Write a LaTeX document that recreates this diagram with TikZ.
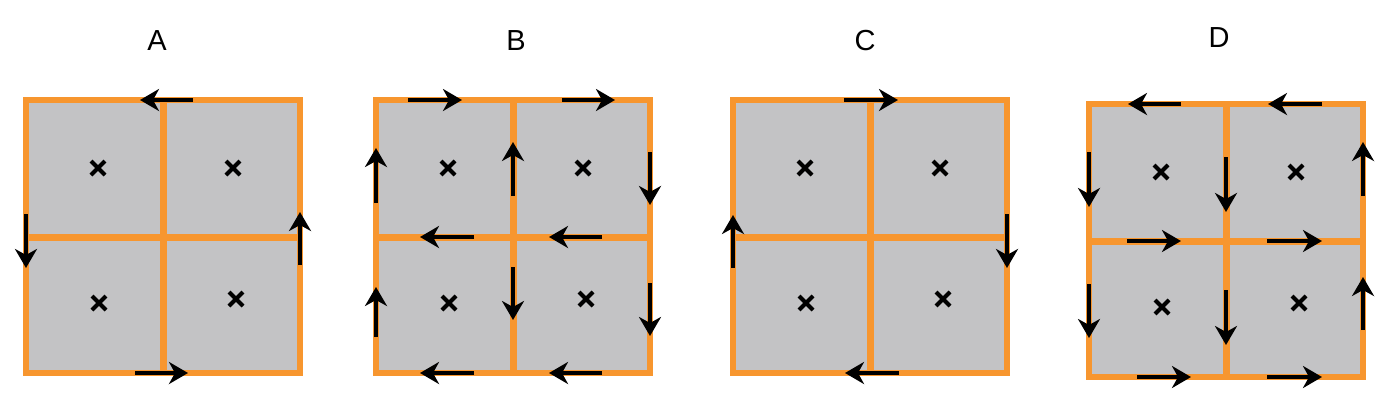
\documentclass[tikz,border=0pt]{standalone}
\usepackage{fontspec}
\setmainfont{Liberation Sans}
\usetikzlibrary{arrows.meta}
\definecolor{cellgray}{HTML}{C3C3C5}
\definecolor{wireorange}{HTML}{F7962F}

\newcommand{\cellgrid}{%
  \fill[cellgray] (0,0) rectangle (274,273);
  \draw[wire] (0,0) rectangle (274,273);
  \draw[wire,line width=7pt] (137,0) -- (137,273) (0,137) -- (274,137);
  \foreach \cx/\cy in {72/68,207/68,73/203,210/199}
    \draw[cross] (\cx-7,\cy-7) -- (\cx+7,\cy+7) (\cx-7,\cy+7) -- (\cx+7,\cy-7);
}

\begin{document}
\begin{tikzpicture}[x=1pt,y=-1pt,>={Stealth[length=19pt,width=22pt,inset=6pt]},
  wire/.style={wireorange,line width=6pt},
  flow/.style={->,line width=4pt},
  cross/.style={line width=4pt},
  panel/.style={font=\fontsize{29}{29}\selectfont}]

\useasboundingbox (0,0) rectangle (1386,402);

\node[panel] (labA) at (157,41) {A};
\node[panel] (labB) at (516,41) {B};
\node[panel] (labC) at (865,41) {C};
\node[panel] (labD) at (1219,38) {D};

% A
\begin{scope}[shift={(26,100)}]
  \cellgrid
  \foreach \ax/\ay/\bx/\by in {167/0/114/0, 0/114/0/168, 274/165/274/112, 109/273/162/273}
    \draw[flow] (\ax,\ay) -- (\bx,\by);
\end{scope}

% B
\begin{scope}[shift={(376,100)}]
  \cellgrid
  \foreach \ax/\ay/\bx/\by in {32/0/86/0, 186/0/239/0,
      0/103/0/48, 137/96/137/42, 274/52/274/105,
      98/137/44/137, 226/137/173/137,
      0/237/0/187, 137/167/137/220, 274/183/274/236,
      98/273/44/273, 226/273/173/273}
    \draw[flow] (\ax,\ay) -- (\bx,\by);
\end{scope}

% C
\begin{scope}[shift={(733,100)}]
  \cellgrid
  \foreach \ax/\ay/\bx/\by in {111/0/165/0, 0/168/0/115, 274/114/274/168, 166/273/112/273}
    \draw[flow] (\ax,\ay) -- (\bx,\by);
\end{scope}

% D
\begin{scope}[shift={(1089,104)}]
  \cellgrid
  \foreach \ax/\ay/\bx/\by in {92/0/39/0, 233/0/179/0,
      0/48/0/103, 137/53/137/108, 274/92/274/38,
      38/137/92/137, 178/137/233/137,
      0/180/0/234, 137/186/137/241, 274/226/274/173,
      48/273/102/273, 178/273/233/273}
    \draw[flow] (\ax,\ay) -- (\bx,\by);
\end{scope}

\end{tikzpicture}
\end{document}
